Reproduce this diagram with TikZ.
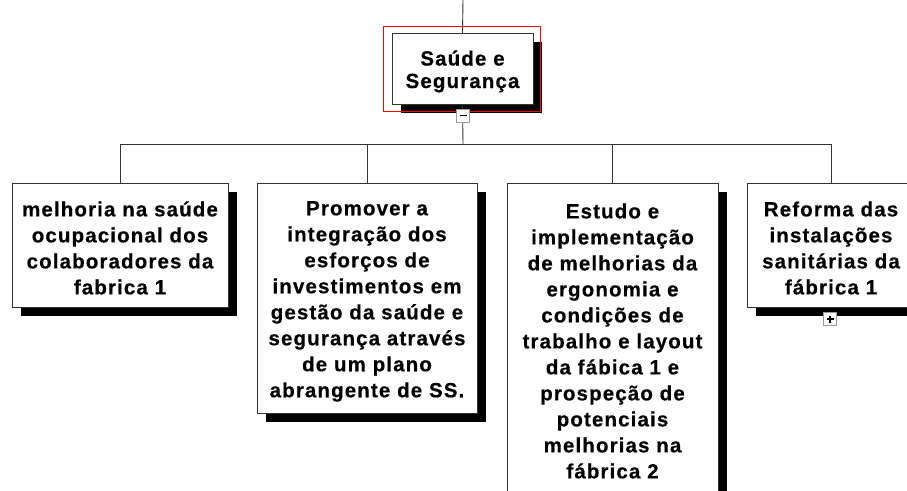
\documentclass[tikz,border=0pt]{standalone}
\usepackage{fontspec}
\newfontfamily\cartefont[LetterSpace=5.5, BoldFeatures={FakeBold=0.5}]{Liberation Sans}
\usetikzlibrary{%
  calc,
  shadows,
  positioning
}
\tikzset{
  boite/.style={
    draw=black!80,
    line width=0.9pt,
    fill=white,
    font=\cartefont\bfseries\fontsize{20.5}{26}\selectfont,
    align=center,
    anchor=north,
    inner xsep=4pt,
    inner ysep=0pt,
    text height=20pt,
    drop shadow={shadow xshift=9pt, shadow yshift=-9pt, fill=black, opacity=1},
  },
  bouton/.style={
    draw=black!40,
    line width=0.9pt,
    fill=white,
    minimum size=13pt,
    inner sep=0pt,
  },
  lien/.style={
    draw=black!80,
    line width=0.9pt,
  },
}

\begin{document}
\begin{tikzpicture}[
  x=1pt,
  y=-1pt,
]
  \useasboundingbox (0,0) rectangle (907,490) ;
  \clip (0,0) rectangle (907,490) ;

  % boite du haut
  \node [boite, text width=133pt, minimum height=71pt,
         font=\cartefont\bfseries\fontsize{20.5}{22.5}\selectfont]
        (sante) at (462.5,33) {Saúde e\\Segurança} ;

  % boites filles
  \node [boite, text width=208pt, minimum height=124pt]
        (b1) at (120,183)
        {melhoria na saúde\\ocupacional dos\\colaboradores da\\fabrica 1} ;
  \node [boite, text width=212pt, minimum height=230pt]
        (b2) at (367,183)
        {Promover a\\integração dos\\esforços de\\investimentos em\\gestão da saúde e\\segurança através\\de um plano\\abrangente de SS.} ;
  \node [boite, text width=203pt, minimum height=310pt]
        (b3) at (612.5,183)
        {Estudo e\\implementação\\de melhorias da\\ergonomia e\\condições de\\trabalho e layout\\da fábica 1 e\\prospeção de\\potenciais\\melhorias na\\fábrica 2} ;
  \node [boite, text width=160pt, minimum height=124pt]
        (b4) at (831,183)
        {Reforma das\\instalações\\sanitárias da\\fábrica 1} ;

  % liens
  \coordinate (haut) at (463,0) ;
  \coordinate (bus) at (463,144) ;
  \draw [lien] (haut) -- (sante.north) ;
  \draw [lien] (sante.south) -- (bus) ;
  \foreach \b in {b1, b2, b3, b4} {
    \draw [lien] (bus) -| (\b.north) ;
  }

  % selection
  \draw [red, line width=1pt]
        ([shift={(-8pt,7pt)}]sante.north west) rectangle
        ([shift={( 7pt,-7pt)}]sante.south east) ;

  % boutons
  \node [bouton] (moins) at (463,115.5) {} ;
  \draw [line width=1.6pt] ([xshift=-3.5pt]moins.center) -- ([xshift=3.5pt]moins.center) ;
  \node [bouton] (plus) at (830,319) {} ;
  \draw [line width=1.4pt]
        ([xshift=-3.5pt]plus.center) -- ([xshift=3.5pt]plus.center)
        ([yshift=-3.5pt]plus.center) -- ([yshift=3.5pt]plus.center) ;

\end{tikzpicture}
\end{document}
